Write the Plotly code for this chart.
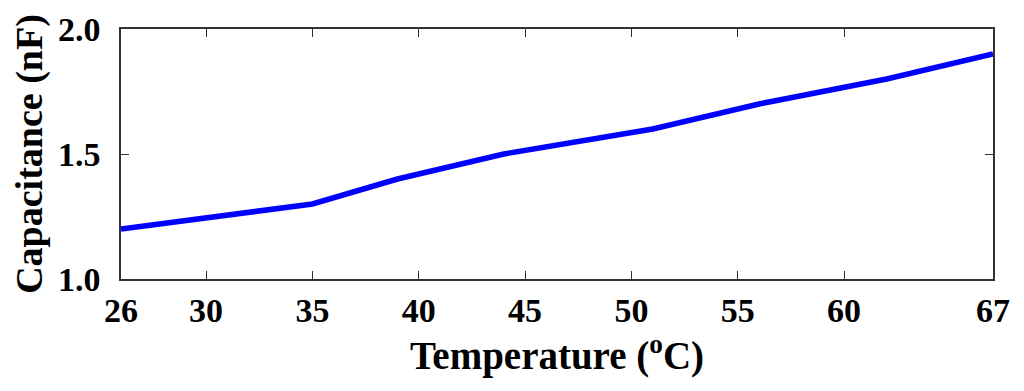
import plotly.graph_objects as go

temperature = [26, 35, 39, 44, 51, 56, 62, 67]
capacitance = [1.2, 1.3, 1.4, 1.5, 1.6, 1.7, 1.8, 1.9]
x_ticks = [26, 30, 35, 40, 45, 50, 55, 60, 67]
y_ticks = [1.0, 1.5, 2.0]
y_tick_labels = ["1.0", "1.5", "2.0"]

font_family = "Liberation Serif, Times New Roman, serif"

fig = go.Figure()
fig.add_trace(go.Scatter(x=temperature, y=capacitance, mode="lines",
                         line=dict(color="#0000ff", width=5.5), showlegend=False))

axis_common = dict(showline=True, linecolor="#333333", linewidth=1.5, mirror="ticks",
                   ticks="inside", ticklen=8, tickwidth=1.2, tickcolor="#333333",
                   showgrid=False, zeroline=False, automargin=False,
                   tickfont=dict(family=font_family, size=34, color="black", weight="bold"))

fig.update_xaxes(range=[26, 67], tickvals=x_ticks, ticktext=[str(t) for t in x_ticks],
                 title=dict(text="Temperature (<sup>o</sup>C)", standoff=4,
                            font=dict(family=font_family, size=39, color="black", weight="bold")),
                 **axis_common)
fig.update_yaxes(range=[1.0, 2.0], tickvals=y_ticks, ticktext=y_tick_labels,
                 ticklabelstandoff=12,
                 title=dict(text="Capacitance (nF)", standoff=8,
                            font=dict(family=font_family, size=38, color="black", weight="bold")),
                 **axis_common)

fig.update_layout(width=1024, height=391, margin=dict(l=113, r=39, t=21, b=120),
                  plot_bgcolor="white", paper_bgcolor="white",
                  font=dict(family=font_family, size=34, color="black"))

fig.write_html("out.html")
